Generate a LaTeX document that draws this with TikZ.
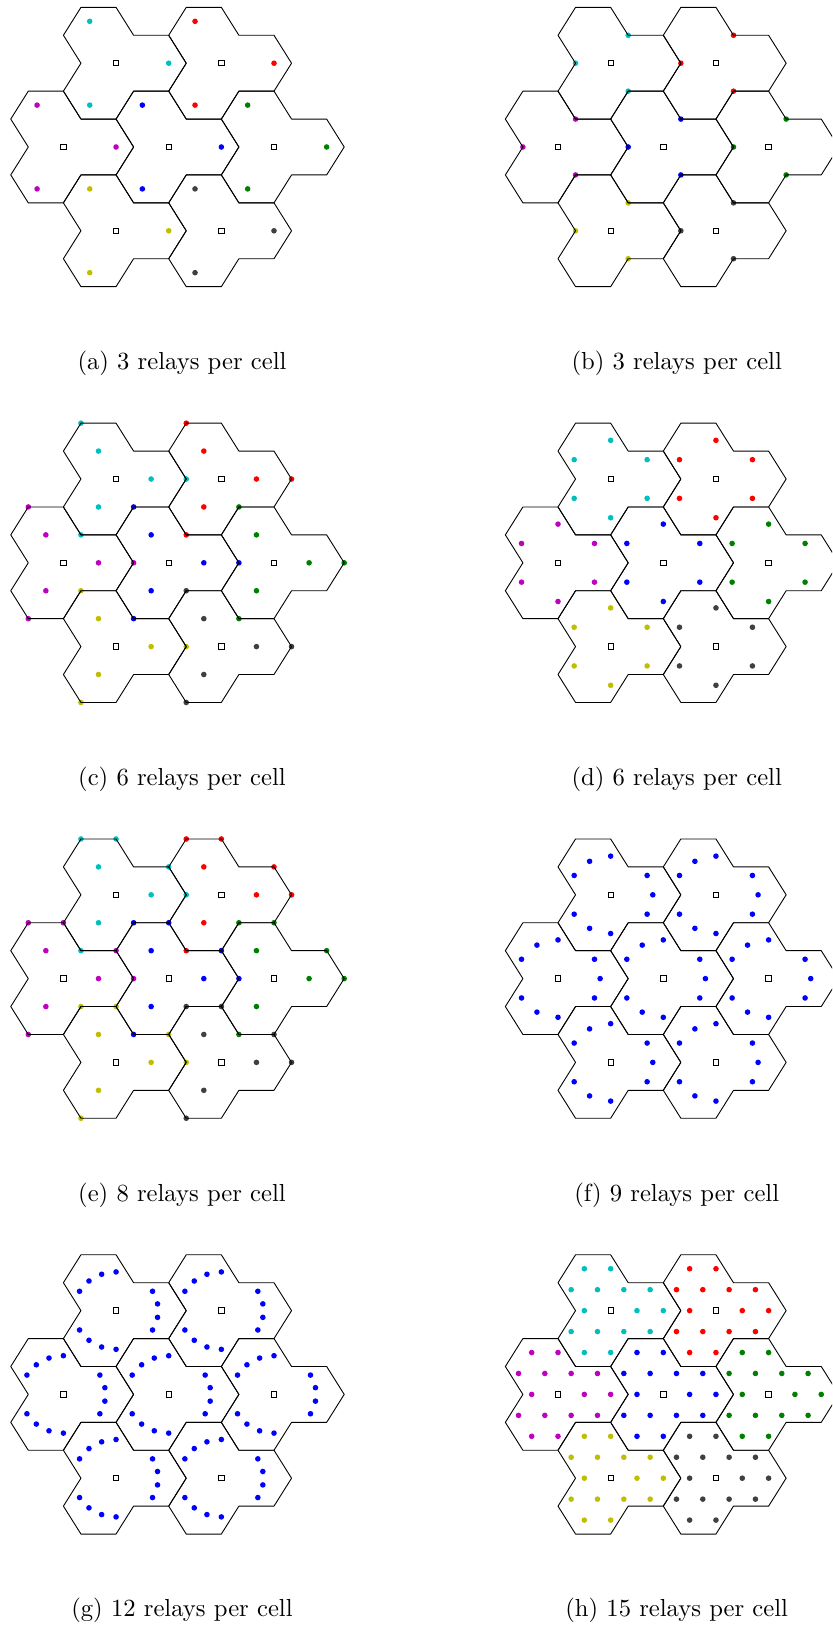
\documentclass[tikz,border=0pt]{standalone}
\definecolor{mcyan}{rgb}{0,0.75,0.75}
\definecolor{mred}{rgb}{1,0,0}
\definecolor{mmag}{rgb}{0.75,0,0.75}
\definecolor{mblue}{rgb}{0,0,1}
\definecolor{mgreen}{rgb}{0,0.5,0}
\definecolor{myel}{rgb}{0.75,0.75,0}
\definecolor{mgray}{rgb}{0.25,0.25,0.25}
\tikzset{
  cellline/.style={draw=black, line width=0.45pt, line join=round},
  bsq/.style={draw=black, line width=0.45pt, fill=white},
  captionnode/.style={anchor=base, inner sep=0pt},
}
\def\cellsC{-1.5/2.598/mcyan, 1.5/2.598/mred, -3/0/mmag, 0/0/mblue, 3/0/mgreen, -1.5/-2.598/myel, 1.5/-2.598/mgray}
\def\cellsB{-1.5/2.598/mblue, 1.5/2.598/mblue, -3/0/mblue, 0/0/mblue, 3/0/mblue, -1.5/-2.598/mblue, 1.5/-2.598/mblue}
\newcommand\relaypanel[3]{%
  \begin{scope}[shift={#1},x=17.55pt,y=16.125pt]
    \foreach \cx/\cy/\col in #2 {
      \begin{scope}[shift={(\cx,\cy)}] #3 \end{scope}
    }
    \foreach \cx/\cy/\col in #2 {
      \begin{scope}[shift={(\cx,\cy)}]
        \draw[cellline] (2,0)--(1.5,.866)--(.5,.866)--(0,1.732)--(-1,1.732)--(-1.5,.866)--(-1,0)--(-1.5,-.866)--(-1,-1.732)--(0,-1.732)--(.5,-.866)--(1.5,-.866)--cycle;
        \draw[bsq] (-1.35pt,-1.35pt) rectangle (1.35pt,1.35pt);
      \end{scope}
    }
  \end{scope}}
\newcommand\captxt[1]{\scalebox{1.232}{\fontsize{10}{12}\selectfont #1}}
\begin{document}
\begin{tikzpicture}[x=0.5pt,y=-0.5pt]
\useasboundingbox (0,0) rectangle (832,1628);
\clip (0,0) rectangle (832,1628);
% (a)
\relaypanel{(168.7,147)}{\cellsC}{\foreach \a in {0,120,240}{\fill[\col] (\a:1.5) circle (1.4pt);}}
% (b)
\relaypanel{(663.3,147)}{\cellsC}{\foreach \a in {60,180,300}{\fill[\col] (\a:1) circle (1.4pt);}}
% (c)
\relaypanel{(168.7,562.8)}{\cellsC}{\foreach \a in {0,120,240}{\fill[\col] (\a:1) circle (1.4pt); \fill[\col] (\a:2) circle (1.4pt);}}
% (d)
\relaypanel{(663.3,562.8)}{\cellsC}{\foreach \a in {30,90,150,210,270,330}{\fill[\col] (\a:1.2) circle (1.4pt);}}
% (e)
\relaypanel{(168.7,978.6)}{\cellsC}{\foreach \a/\r in {0/1,120/1,240/1,120/2,90/1.732,30/1.732,0/2,240/2}{\fill[\col] (\a:\r) circle (1.4pt);}}
% (f)
\relaypanel{(663.3,978.6)}{\cellsB}{\foreach \a in {0,30,90,120,150,210,240,270,330}{\fill[\col] (\a:1.2) circle (1.4pt);}}
% (g)
\relaypanel{(168.7,1394.4)}{\cellsB}{\foreach \a in {-30,-10,10,30,90,110,130,150,210,230,250,270}{\fill[\col] (\a:1.2) circle (1.4pt);}}
% (h)
\relaypanel{(663.3,1394.4)}{\cellsC}{\foreach \px/\py in {-0.75/1.299,0/1.299,-1.125/0.6495,-0.375/0.6495,0.375/0.6495,1.125/0.6495,-0.75/0,0.75/0,1.5/0,-1.125/-0.6495,-0.375/-0.6495,0.375/-0.6495,1.125/-0.6495,-0.75/-1.299,0/-1.299}{\fill[\col] (\px,\py) circle (1.4pt);}}
% captions
\node[captionnode] (capa) at (182,369.5) {\captxt{(a) 3 relays per cell}};
\node[captionnode] (capb) at (676.7,369.5) {\captxt{(b) 3 relays per cell}};
\node[captionnode] (capc) at (182,785.3) {\captxt{(c) 6 relays per cell}};
\node[captionnode] (capd) at (676.7,785.3) {\captxt{(d) 6 relays per cell}};
\node[captionnode] (cape) at (182,1201.1) {\captxt{(e) 8 relays per cell}};
\node[captionnode] (capf) at (676.7,1201.1) {\captxt{(f) 9 relays per cell}};
\node[captionnode] (capg) at (182,1616.9) {\captxt{(g) 12 relays per cell}};
\node[captionnode] (caph) at (676.7,1616.9) {\captxt{(h) 15 relays per cell}};
\end{tikzpicture}
\end{document}
